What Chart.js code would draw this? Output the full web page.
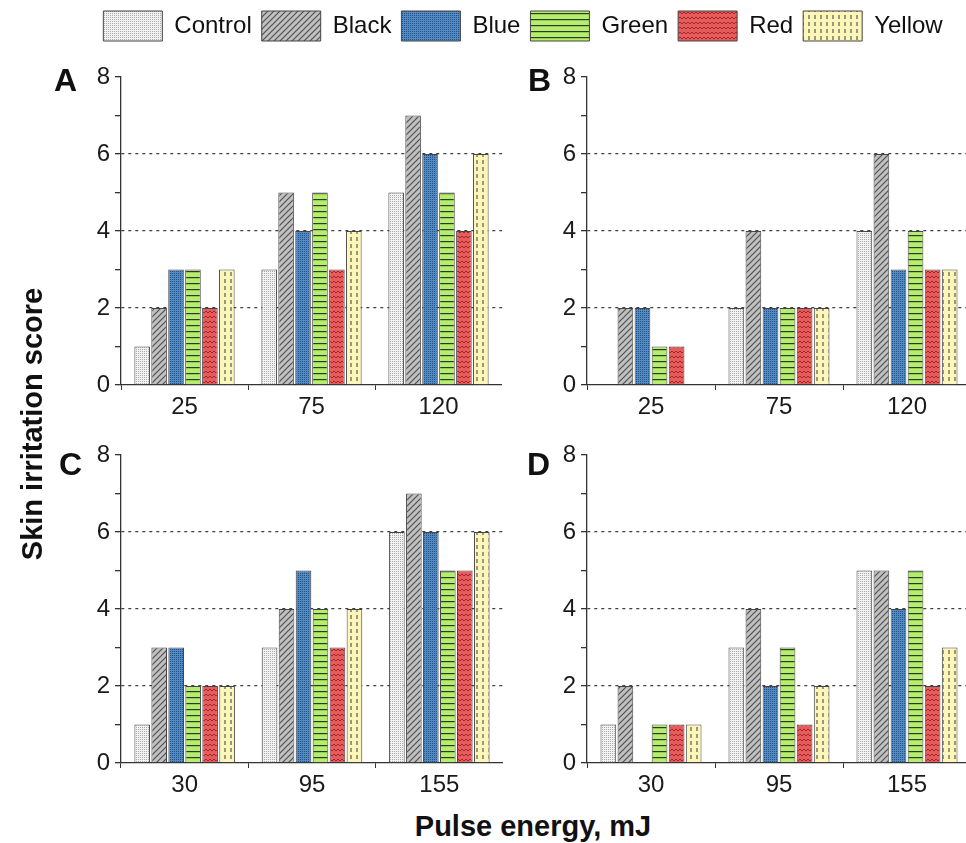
<!DOCTYPE html>
<html>
<head>
<meta charset="utf-8">
<script src="https://cdn.jsdelivr.net/npm/chart.js@4.4.0/dist/chart.umd.min.js"></script>
<style>
  body { margin: 0; width: 966px; height: 843px; overflow: hidden; background: #fff; position: relative;
         font-family: "Liberation Sans", Arial, sans-serif; }
  canvas { position: absolute; }
  .txt { position: absolute; font-weight: bold; color: #111; white-space: nowrap; line-height: 1; }
  .panel { font-size: 32px; }
  .axis { font-size: 29px; }
</style>
</head>
<body>
<canvas id="leg" width="886" height="120" style="left:80px;top:1px"></canvas>
<canvas id="cA" width="436" height="372" style="left:66px;top:55px"></canvas>
<canvas id="cB" width="439" height="372" style="left:532px;top:55px"></canvas>
<canvas id="cC" width="437" height="372" style="left:66px;top:433px"></canvas>
<canvas id="cD" width="439" height="372" style="left:532px;top:433px"></canvas>

<div class="txt panel" style="left:54px;top:64px">A</div>
<div class="txt panel" style="left:528px;top:64px">B</div>
<div class="txt panel" style="left:59px;top:448px">C</div>
<div class="txt panel" style="left:527px;top:448px">D</div>
<div class="txt axis" style="left:32px;top:424px;transform:translate(-50%,-50%) rotate(-90deg)">Skin irritation score</div>
<div class="txt axis" style="left:533px;top:812px;transform:translateX(-50%)">Pulse energy, mJ</div>

<script>
// Données
const series = ['Control', 'Black', 'Blue', 'Green', 'Red', 'Yellow'];
const energyAB = ['25', '75', '120'];
const energyCD = ['30', '95', '155'];
const yTicks = [0, 2, 4, 6, 8];

// une ligne par série, une valeur par énergie
const scoresA = [[1, 3, 5], [2, 5, 7], [3, 4, 6], [3, 5, 5], [2, 3, 4], [3, 4, 6]];
const scoresB = [[0, 2, 4], [2, 4, 6], [2, 2, 3], [1, 2, 4], [1, 2, 3], [0, 2, 3]];
const scoresC = [[1, 3, 6], [3, 4, 7], [3, 5, 6], [2, 4, 5], [2, 3, 5], [2, 4, 6]];
const scoresD = [[1, 3, 5], [2, 4, 5], [0, 2, 4], [1, 3, 5], [1, 1, 2], [1, 2, 3]];

Chart.defaults.font.family = '"Liberation Sans", Arial, sans-serif';
Chart.defaults.color = '#1a1a1a';

// Motifs de remplissage
function makePattern(w, h, draw) {
    const c = document.createElement('canvas');
    c.width = w; c.height = h;
    const g = c.getContext('2d');
    draw(g);
    return g.createPattern(c, 'repeat');
}
const patterns = [
    makePattern(2, 2, g => { g.fillStyle = '#f2f2f2'; g.fillRect(0, 0, 2, 2); g.fillStyle = '#ababab'; g.fillRect(0, 0, 1, 1); }),
    makePattern(6, 6, g => {
        g.fillStyle = '#c0c0c0'; g.fillRect(0, 0, 6, 6);
        g.strokeStyle = '#505050'; g.lineWidth = 1.2;
        g.beginPath(); g.moveTo(0, 6); g.lineTo(6, 0); g.moveTo(-1, 1); g.lineTo(1, -1); g.moveTo(5, 7); g.lineTo(7, 5); g.stroke();
    }),
    makePattern(2, 2, g => { g.fillStyle = '#4b8dcc'; g.fillRect(0, 0, 2, 2); g.fillStyle = '#27507e'; g.fillRect(0, 0, 1, 1); }),
    makePattern(4, 6, g => { g.fillStyle = '#b5ee6c'; g.fillRect(0, 0, 4, 6); g.fillStyle = '#2f3a26'; g.fillRect(0, 0, 4, 1.2); }),
    makePattern(4, 5, g => {
        g.fillStyle = '#e65b5b'; g.fillRect(0, 0, 4, 5);
        g.strokeStyle = '#a52626'; g.lineWidth = 1;
        g.beginPath(); g.moveTo(0, 1); g.lineTo(2, 3); g.lineTo(4, 1); g.stroke();
    }),
    makePattern(6, 7, g => { g.fillStyle = '#fcf6b9'; g.fillRect(0, 0, 6, 7); g.fillStyle = '#3a3a3a'; g.fillRect(2.5, 0, 1, 4); })
];

function makeDatasets(scores) {
    return series.map((name, i) => ({
        label: name,
        data: scores ? scores[i] : [],
        backgroundColor: patterns[i],
        borderColor: '#454545',
        borderWidth: 1,
        categoryPercentage: 0.8,
        barPercentage: 0.92
    }));
}

// Légende commune
new Chart(document.getElementById('leg'), {
    type: 'bar',
    data: { labels: [], datasets: makeDatasets(null) },
    options: {
        responsive: false,
        animation: false,
        layout: { padding: 0 },
        scales: { x: { display: false }, y: { display: false } },
        plugins: {
            tooltip: { enabled: false },
            legend: {
                display: true,
                position: 'top',
                onClick: null,
                labels: { boxWidth: 59, boxHeight: 30, padding: 10, color: '#111', font: { size: 24 } }
            }
        }
    }
});

function makePanel(id, labels, scores) {
    new Chart(document.getElementById(id), {
        type: 'bar',
        data: { labels: labels, datasets: makeDatasets(scores) },
        options: {
            responsive: false,
            animation: false,
            layout: { padding: { top: 22, left: 0, right: 0, bottom: 0 } },
            plugins: { legend: { display: false }, tooltip: { enabled: false } },
            scales: {
                x: {
                    afterFit: s => { s.height = 42; },
                    grid: { drawOnChartArea: false, drawTicks: true, tickLength: 5, tickColor: '#333', offset: true },
                    border: { color: '#333', width: 1.3 },
                    ticks: { color: '#1a1a1a', font: { size: 24 }, padding: 3 }
                },
                y: {
                    min: 0,
                    max: 8,
                    afterFit: s => { s.width = 55; },
                    grid: {
                        color: c => [2, 4, 6].includes(c.tick.value) ? '#404040' : 'rgba(0,0,0,0)',
                        lineWidth: 1.3,
                        tickColor: '#333',
                        tickLength: 6,
                        tickBorderDash: []
                    },
                    border: { color: '#333', width: 1.3, dash: [3, 4] },
                    ticks: {
                        stepSize: 1,
                        padding: 5,
                        color: '#1a1a1a',
                        font: { size: 24 },
                        callback: v => yTicks.includes(v) ? v : ''
                    }
                }
            }
        }
    });
}

makePanel('cA', energyAB, scoresA);
makePanel('cB', energyAB, scoresB);
makePanel('cC', energyCD, scoresC);
makePanel('cD', energyCD, scoresD);
</script>
</body>
</html>
